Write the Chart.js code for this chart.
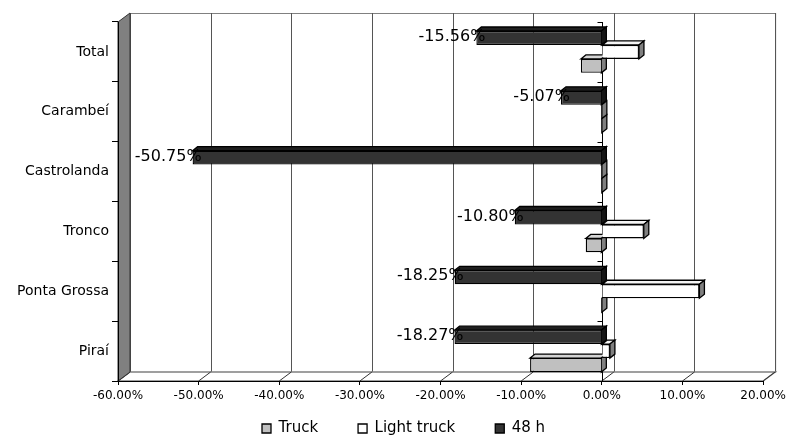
<!DOCTYPE html>
<html>
<head>
<meta charset="utf-8">
<script src="https://cdn.jsdelivr.net/npm/chart.js@4/dist/chart.umd.min.js"></script>
<style>
  html, body { margin: 0; padding: 0; background: #fff; }
</style>
</head>
<body>
<canvas id="myChart" width="790" height="437"></canvas>
<script>
const categories = ['Total', 'Carambeí', 'Castrolanda', 'Tronco', 'Ponta Grossa', 'Piraí'];
const truck = [-2.6, 0, 0, -2.0, 0, -8.9];
const lightTruck = [4.6, 0, 0, 5.2, 12.1, 1.0];
const h48 = [-15.56, -5.07, -50.75, -10.80, -18.25, -18.27];
const xTicks = [-60, -50, -40, -30, -20, -10, 0, 10, 20];

const FONT = 'DejaVu Sans';
// depth of the walls and of each bar
const WALL_DX = 12, WALL_DY = -9;
const BAR_DX = 5, BAR_DY = -4;
const topColors = ['#1f1f1f', '#f4f4f4', '#d4d4d4'];
const sideColors = ['#151515', '#808080', '#808080'];

const data = {
    labels: categories,
    datasets: [
        {label: '48 h', data: h48, backgroundColor: '#333333', borderColor: '#000', borderWidth: 1.3},
        {label: 'Light truck', data: lightTruck, backgroundColor: '#ffffff', borderColor: '#000', borderWidth: 1.3},
        {label: 'Truck', data: truck, backgroundColor: '#c0c0c0', borderColor: '#000', borderWidth: 1.3}
    ]
};

function poly(ctx, pts, fill) {
    ctx.beginPath();
    ctx.moveTo(pts[0][0], pts[0][1]);
    for (let i = 1; i < pts.length; i++) ctx.lineTo(pts[i][0], pts[i][1]);
    ctx.closePath();
    if (fill) { ctx.fillStyle = fill; ctx.fill(); }
    ctx.stroke();
}

const walls = {
    id: 'walls',
    afterInit(chart) {
        // keep the legend box short, it is moved under the axis after layout
        const legend = chart.legend;
        const fit = legend.fit;
        legend.fit = function () {
            fit.call(this);
            this.height = 18;
        };
    },
    afterLayout(chart) {
        chart.legend.left = 222;
        chart.legend.right = 790;
        chart.legend.top = 381;
        chart.legend.bottom = 437;
    },
    beforeDraw(chart) {
        const {ctx, chartArea: a, scales: {x}} = chart;
        ctx.save();
        ctx.lineWidth = 1;
        // back wall
        ctx.strokeStyle = '#808080';
        ctx.fillStyle = '#fff';
        ctx.fillRect(a.left + WALL_DX, a.top + WALL_DY, a.right - a.left, a.bottom - a.top);
        ctx.strokeRect(a.left + WALL_DX + 0.5, a.top + WALL_DY + 0.5, a.right - a.left, a.bottom - a.top);
        // grid on back wall
        ctx.strokeStyle = '#555';
        xTicks.forEach(v => {
            const px = Math.round(x.getPixelForValue(v) + WALL_DX) + 0.5;
            ctx.beginPath();
            ctx.moveTo(px, a.top + WALL_DY);
            ctx.lineTo(px, a.bottom + WALL_DY);
            ctx.stroke();
        });
        // floor
        ctx.strokeStyle = '#808080';
        ctx.lineWidth = 1.5;
        poly(ctx, [[a.left, a.bottom], [a.left + WALL_DX, a.bottom + WALL_DY],
            [a.right + WALL_DX, a.bottom + WALL_DY], [a.right, a.bottom]], '#fff');
        ctx.lineWidth = 1;
        ctx.strokeStyle = '#333';
        xTicks.forEach(v => {
            const px = x.getPixelForValue(v);
            ctx.beginPath();
            ctx.moveTo(px, a.bottom);
            ctx.lineTo(px + WALL_DX, a.bottom + WALL_DY);
            ctx.stroke();
        });
        // left wall
        ctx.strokeStyle = '#333';
        poly(ctx, [[a.left, a.top], [a.left + WALL_DX, a.top + WALL_DY],
            [a.left + WALL_DX, a.bottom + WALL_DY], [a.left, a.bottom]], '#808080');
        ctx.restore();
    },
    beforeDatasetsDraw(chart) {
        const {ctx, chartArea: a, scales: {x, y}} = chart;
        ctx.save();
        ctx.lineWidth = 1;
        ctx.strokeStyle = '#000';
        // category axis crossing at zero
        const zx = Math.round(x.getPixelForValue(0)) + 0.5;
        ctx.beginPath();
        ctx.moveTo(zx, a.top);
        ctx.lineTo(zx, a.bottom);
        for (let i = 0; i <= categories.length; i++) {
            const py = Math.round(y.getPixelForValue(i - 0.5)) + 0.5;
            ctx.moveTo(zx - 5, py);
            ctx.lineTo(zx, py);
        }
        ctx.stroke();
        // top and end faces of the bars
        ctx.lineWidth = 1.3;
        chart.data.datasets.forEach((ds, di) => {
            chart.getDatasetMeta(di).data.forEach(bar => {
                const l = Math.min(bar.x, bar.base), r = Math.max(bar.x, bar.base);
                const t = bar.y - bar.height / 2, b = bar.y + bar.height / 2;
                if (r - l > 0.5) {
                    poly(ctx, [[l, t], [l + BAR_DX, t + BAR_DY], [r + BAR_DX, t + BAR_DY], [r, t]], topColors[di]);
                }
                poly(ctx, [[r, t], [r + BAR_DX, t + BAR_DY], [r + BAR_DX, b + BAR_DY], [r, b]], sideColors[di]);
            });
        });
        ctx.restore();
    },
    afterDatasetsDraw(chart) {
        const {ctx} = chart;
        ctx.save();
        ctx.font = '16px "' + FONT + '"';
        ctx.fillStyle = '#000';
        ctx.textAlign = 'right';
        ctx.textBaseline = 'middle';
        chart.getDatasetMeta(0).data.forEach((bar, i) => {
            ctx.fillText(h48[i].toFixed(2) + '%', bar.x + 9, bar.y - 1);
        });
        ctx.restore();
    }
};

const ctx = document.getElementById('myChart');

const config = {
    type: 'bar',
    data: data,
    plugins: [walls],
    options: {
        responsive: false,
        animation: false,
        indexAxis: 'y',
        layout: {padding: {top: 22, right: 24, left: 0, bottom: 0}},
        datasets: {bar: {categoryPercentage: 0.7, barPercentage: 1}},
        scales: {
            x: {
                min: -60,
                max: 20,
                afterBuildTicks: scale => { scale.ticks = xTicks.map(v => ({value: v})); },
                afterFit: scale => { scale.height = 38; },
                ticks: {
                    callback: v => v.toFixed(2) + '%',
                    font: {family: FONT, size: 12},
                    color: '#000',
                    padding: 4,
                    maxRotation: 0,
                    autoSkip: false
                },
                grid: {drawOnChartArea: false, tickLength: 4, color: '#000'},
                border: {color: '#000'}
            },
            y: {
                afterFit: scale => { scale.width = 118; },
                ticks: {font: {family: FONT, size: 14}, color: '#000', padding: 3},
                grid: {drawOnChartArea: false, tickLength: 6, color: '#000', offset: true},
                border: {color: '#000'}
            }
        },
        plugins: {
            legend: {
                position: 'bottom',
                align: 'start',
                reverse: true,
                labels: {
                    boxWidth: 9,
                    boxHeight: 9,
                    padding: 40,
                    color: '#000',
                    font: {family: FONT, size: 15, lineHeight: 1}
                }
            },
            tooltip: {enabled: false}
        }
    }
};

const myChart = new Chart(ctx, config);
</script>
</body>
</html>
